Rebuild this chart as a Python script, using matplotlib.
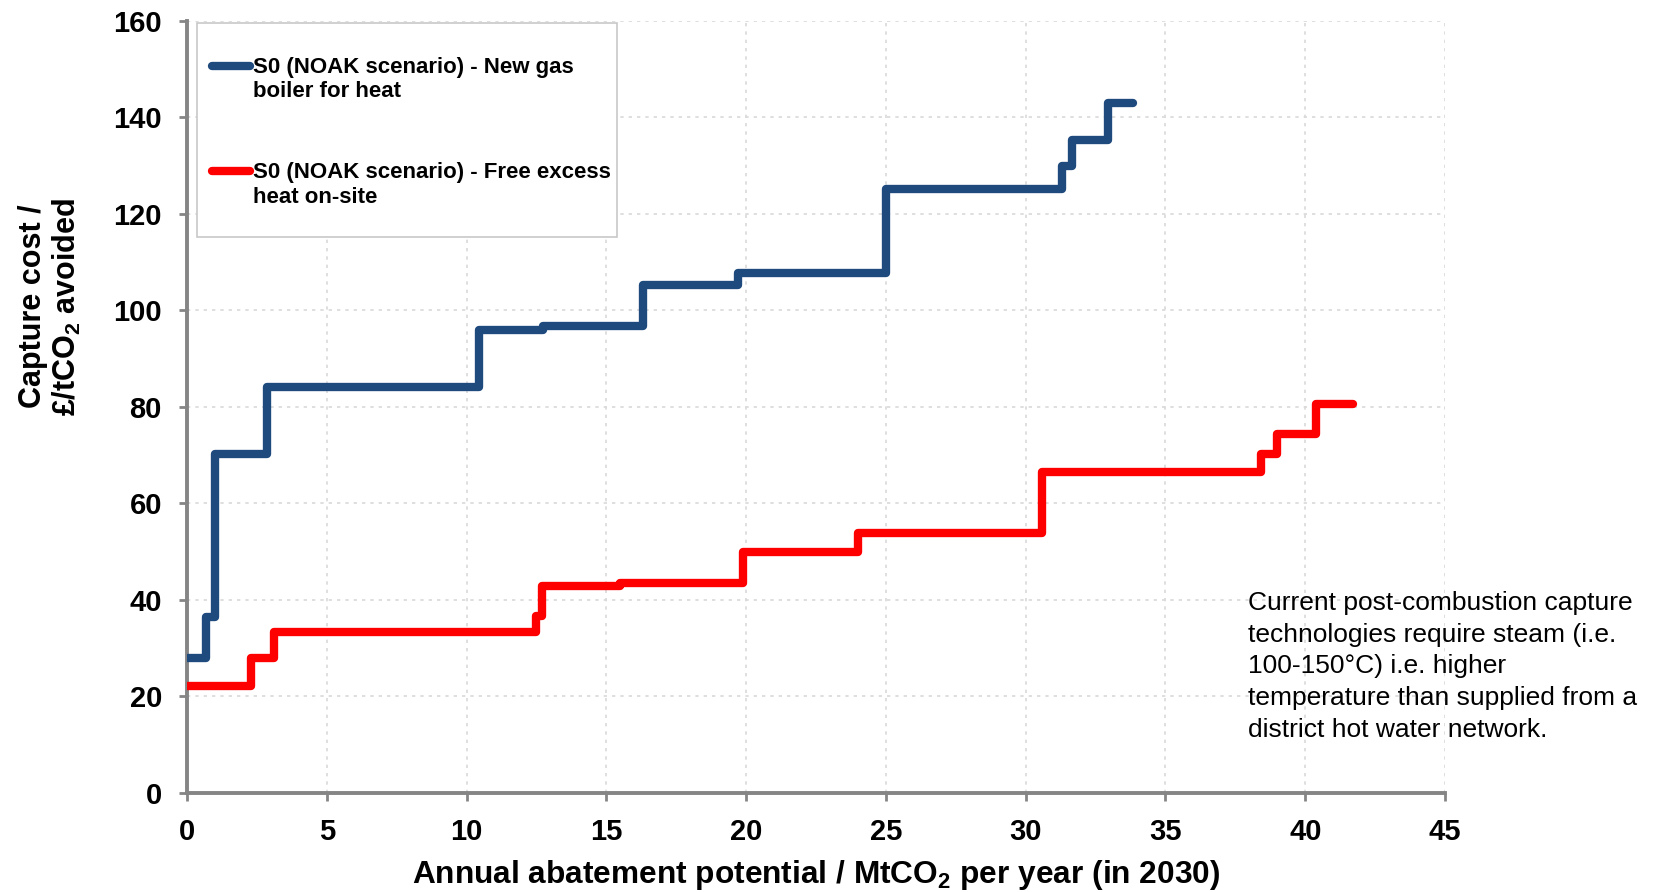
import matplotlib
matplotlib.use("Agg")
import matplotlib.pyplot as plt
from matplotlib.patches import Rectangle

plt.rcParams['font.family'] = ['Liberation Sans', 'DejaVu Sans']
plt.rcParams['mathtext.fontset'] = 'custom'
plt.rcParams['mathtext.rm'] = 'Liberation Sans'
plt.rcParams['mathtext.bf'] = 'Liberation Sans:bold'

# Step curves: start of each step (MtCO2/yr) and capture cost (GBP/tCO2)
gas_x = [0, 0.68, 1.0, 2.85, 10.45, 12.75, 16.3, 19.7, 25.0, 31.3, 31.65, 32.95, 33.85]
gas_y = [28, 36.5, 70.2, 84.2, 95.9, 96.8, 105.2, 107.7, 125.1, 130.0, 135.4, 143.0, 143.0]

free_x = [0, 2.3, 3.1, 12.5, 12.7, 15.5, 19.9, 24.0, 30.6, 38.4, 39.0, 40.4, 41.7]
free_y = [22.1, 27.9, 33.4, 36.6, 42.8, 43.6, 50.0, 53.8, 66.6, 70.2, 74.5, 80.7, 80.7]

labels = ["S0 (NOAK scenario) - New gas\nboiler for heat",
          "S0 (NOAK scenario) - Free excess\nheat on-site"]
x_ticks = list(range(0, 50, 5))
y_ticks = list(range(0, 180, 20))

note = ("Current post-combustion capture\n"
        "technologies require steam (i.e.\n"
        "100-150\u00b0C) i.e. higher\n"
        "temperature than supplied from a\n"
        "district hot water network.")

fig = plt.figure(figsize=(16.53, 8.92), dpi=100)
ax = fig.add_axes([0.1131, 0.111, 0.7611, 0.8655])

ax.step(gas_x, gas_y, where="post", color="#1f4a7e", linewidth=6,
        solid_capstyle="round", solid_joinstyle="round", label=labels[0], zorder=3)
ax.step(free_x, free_y, where="post", color="#ff0000", linewidth=6,
        solid_capstyle="round", solid_joinstyle="round", label=labels[1], zorder=3)

ax.set_xlim(0, 45)
ax.set_ylim(0, 160)
ax.set_xticks(x_ticks)
ax.set_yticks(y_ticks)
ax.grid(True, color="#d9d9d9", linestyle=(0, (2, 3)), linewidth=1.2)
ax.set_axisbelow(True)

for s in ["top", "right"]:
    ax.spines[s].set_visible(False)
for s in ["left", "bottom"]:
    ax.spines[s].set_color("#858585")
    ax.spines[s].set_linewidth(2.8)
ax.tick_params(axis="both", direction="out", length=6, width=2, color="#858585",
               pad=12, labelsize=21)
for lab in ax.get_xticklabels() + ax.get_yticklabels():
    lab.set_fontweight("bold")

ax.set_xlabel(r"Annual abatement potential / MtCO$_{\mathbf{2}}$ per year (in 2030)",
              fontsize=22.8, fontweight="bold", labelpad=8.5)
ax.set_ylabel("Capture cost /\n" + r"£/tCO$_{\mathbf{2}}$ avoided",
              fontsize=22, fontweight="bold", linespacing=1.1)
ax.yaxis.set_label_coords(-0.083, 0.63)

# legend box
ax.add_patch(Rectangle((0.008, 0.72), 0.334, 0.2775, transform=ax.transAxes,
                       facecolor="white", edgecolor="#c8c8c8", linewidth=1.2, zorder=4))
leg = ax.legend(loc="upper left", bbox_to_anchor=(0.004, 0.979), frameon=False,
                prop={"size": 16, "weight": "bold"}, handlelength=1.7,
                handletextpad=0.15, labelspacing=2.7, borderpad=0.4)
leg.set_zorder(5)
for h in leg.get_lines():
    h.set_linewidth(6)
    h.set_solid_capstyle("round")
    h.set_ydata([v + 10.3 for v in h.get_ydata()])

fig.text(0.755, 0.253, note, fontsize=19, ha="left", va="center", linespacing=1.4)

fig.savefig("out.png", dpi=100)
